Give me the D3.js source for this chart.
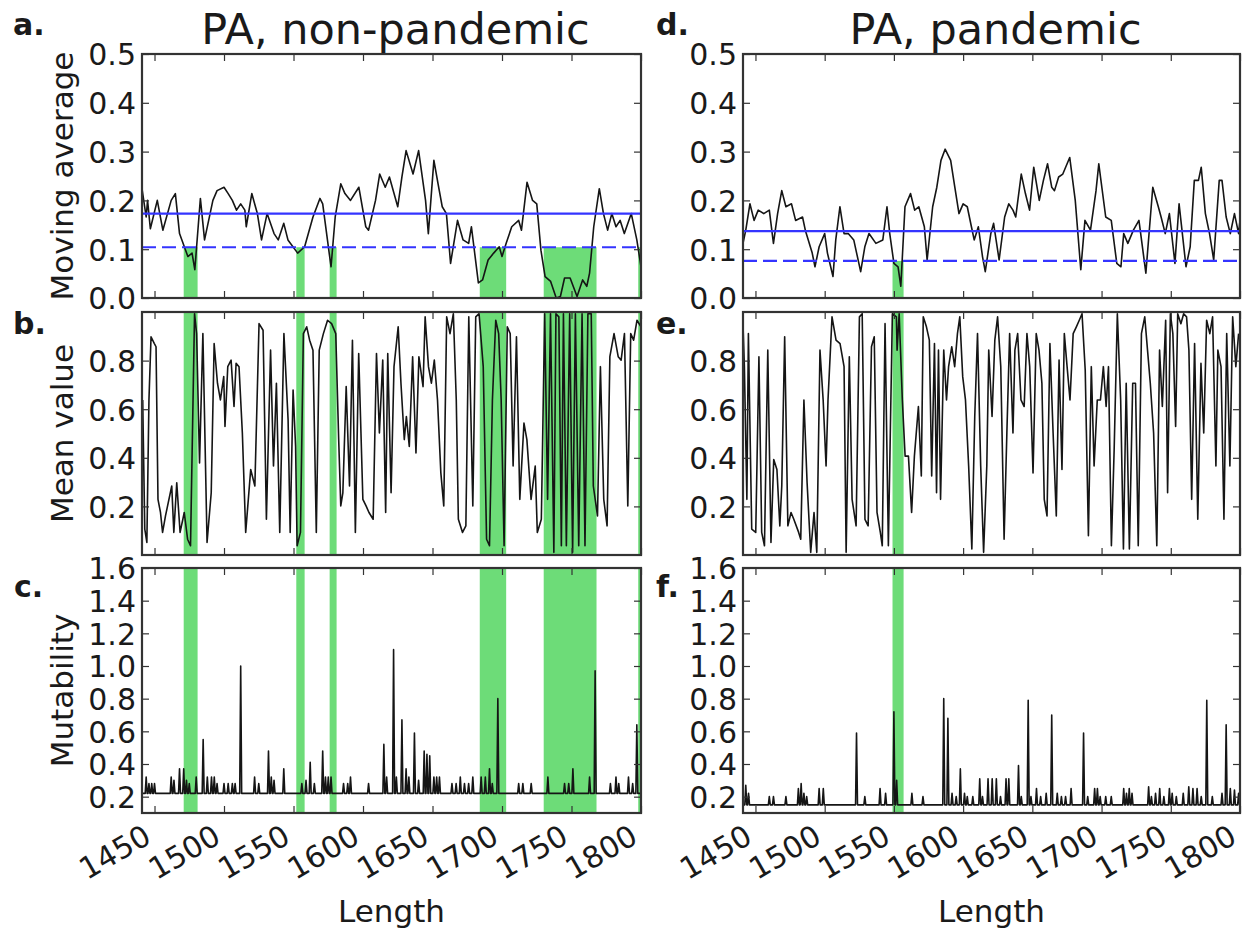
<!DOCTYPE html>
<html lang="en">
<head>
<meta charset="utf-8">
<title>PA: moving average, mean value, mutability</title>
<script src="https://d3js.org/d3.v7.min.js"></script>
<style>
  body { margin: 0; background: #fff; }
  text { font-family: "DejaVu Sans", sans-serif; fill: #1a1a1a; }
  .tick text { font-size: 30px; }
  .tick line { stroke: #333; stroke-width: 1.2; }
  path.domain { display: none; }
  .frame { fill: none; stroke: #333; stroke-width: 2.2; }
  .letter { font-weight: bold; font-size: 30px; }
  .title { font-size: 43px; }
  .ylabel, .xlabel { font-size: 31px; }
</style>
</head>
<body>
<svg id="chart" width="1251" height="938"></svg>
<script>
// ---- data ----
const xTicks = [1450, 1500, 1550, 1600, 1650, 1700, 1750, 1800];
const maTicks = [0, 0.1, 0.2, 0.3, 0.4, 0.5];
const meanTicks = [0.2, 0.4, 0.6, 0.8];
const mutTicks = [0.2, 0.4, 0.6, 0.8, 1.0, 1.2, 1.4, 1.6];

const titles = ["PA, non-pandemic", "PA, pandemic"];
const letters = [["a.", "b.", "c."], ["d.", "e.", "f."]];
const yLabels = ["Moving average", "Mean value", "Mutability"];

// thresholds (solid = mean, dashed = cut-off)
const thrNon = { solid: 0.173, dashed: 0.104 };
const thrPan = { solid: 0.137, dashed: 0.076 };

// highlighted (green) regions
const bandsNon = [[1471, 1481], [1552, 1558], [1576, 1581], [1684, 1703], [1730, 1768], [1798, 1800]];
const bandsPan = [[1549, 1557]];

// moving average
const maNon = [[1441,0.224],[1444,0.166],[1445,0.200],[1447,0.142],[1452,0.200],[1456,0.139],[1462,0.200],[1465,0.214],[1468,0.132],[1474,0.085],[1477,0.092],[1479,0.058],[1483,0.204],[1486,0.119],[1492,0.200],[1495,0.220],[1500,0.227],[1503,0.214],[1506,0.200],[1509,0.180],[1512,0.193],[1515,0.180],[1516,0.146],[1520,0.214],[1524,0.173],[1527,0.119],[1531,0.173],[1536,0.132],[1539,0.119],[1543,0.153],[1546,0.119],[1553,0.092],[1558,0.105],[1564,0.166],[1569,0.204],[1571,0.193],[1576,0.085],[1577,0.064],[1580,0.166],[1584,0.234],[1587,0.214],[1591,0.200],[1597,0.227],[1602,0.146],[1604,0.139],[1609,0.200],[1612,0.254],[1616,0.227],[1619,0.248],[1625,0.187],[1628,0.248],[1631,0.302],[1636,0.254],[1640,0.302],[1645,0.200],[1647,0.132],[1651,0.282],[1654,0.234],[1657,0.187],[1660,0.173],[1663,0.071],[1668,0.159],[1672,0.119],[1676,0.112],[1678,0.146],[1683,0.031],[1686,0.037],[1690,0.078],[1694,0.092],[1698,0.105],[1700,0.085],[1703,0.112],[1707,0.146],[1712,0.159],[1714,0.139],[1718,0.237],[1722,0.200],[1725,0.193],[1728,0.098],[1731,0.044],[1735,0.034],[1739,0.000],[1742,0.003],[1745,0.041],[1749,0.041],[1754,0.003],[1758,0.037],[1761,0.024],[1763,0.051],[1766,0.146],[1770,0.224],[1773,0.173],[1776,0.139],[1779,0.173],[1782,0.146],[1785,0.159],[1788,0.132],[1793,0.173],[1797,0.119],[1800,0.064]];
const maPan = [[1441,0.112],[1443,0.139],[1446,0.193],[1449,0.159],[1452,0.180],[1456,0.173],[1460,0.180],[1463,0.112],[1466,0.173],[1469,0.220],[1472,0.187],[1476,0.193],[1479,0.159],[1484,0.166],[1486,0.139],[1491,0.092],[1493,0.064],[1496,0.105],[1500,0.132],[1502,0.092],[1506,0.044],[1508,0.119],[1511,0.187],[1514,0.132],[1517,0.132],[1521,0.119],[1526,0.054],[1529,0.105],[1532,0.132],[1537,0.112],[1542,0.119],[1545,0.187],[1547,0.132],[1550,0.071],[1553,0.064],[1555,0.024],[1558,0.187],[1562,0.214],[1565,0.180],[1568,0.187],[1572,0.146],[1574,0.078],[1578,0.187],[1581,0.227],[1584,0.282],[1587,0.305],[1591,0.282],[1594,0.227],[1597,0.173],[1600,0.193],[1603,0.187],[1606,0.146],[1608,0.119],[1611,0.146],[1614,0.085],[1616,0.054],[1620,0.132],[1622,0.153],[1626,0.078],[1630,0.166],[1633,0.193],[1636,0.180],[1638,0.166],[1642,0.254],[1645,0.214],[1648,0.180],[1651,0.268],[1655,0.200],[1658,0.241],[1661,0.275],[1664,0.227],[1666,0.220],[1669,0.248],[1672,0.254],[1677,0.288],[1681,0.200],[1685,0.058],[1688,0.159],[1692,0.139],[1696,0.220],[1698,0.275],[1703,0.166],[1707,0.159],[1711,0.071],[1714,0.064],[1716,0.132],[1719,0.112],[1723,0.139],[1727,0.159],[1732,0.051],[1737,0.227],[1741,0.187],[1743,0.166],[1746,0.132],[1749,0.173],[1753,0.071],[1756,0.193],[1761,0.064],[1764,0.105],[1767,0.241],[1770,0.241],[1772,0.268],[1775,0.173],[1778,0.132],[1781,0.078],[1785,0.241],[1787,0.241],[1790,0.166],[1793,0.132],[1796,0.173],[1799,0.132],[1800,0.159]];

// mean value
const meanNon = [[1441.5,0.638],[1443,0.106],[1444.5,0.052],[1446,0.638],[1447.5,0.898],[1449.9,0.870],[1451.1,0.857],[1452.5,0.229],[1454.3,0.175],[1455.8,0.093],[1457.9,0.161],[1459.4,0.202],[1462.4,0.284],[1463.9,0.093],[1466,0.297],[1468.4,0.093],[1471.4,0.175],[1473.8,0.065],[1475.9,0.038],[1478.8,0.993],[1480.3,0.911],[1482.4,0.379],[1484.8,0.911],[1487.8,0.052],[1490.8,0.256],[1492.9,0.870],[1495.3,0.707],[1497.4,0.638],[1499.8,0.734],[1500.7,0.529],[1502.7,0.775],[1505.1,0.802],[1507.2,0.611],[1508.7,0.789],[1510.8,0.775],[1513.2,0.502],[1515.6,0.093],[1519.2,0.352],[1522.2,0.284],[1525.2,0.952],[1528.1,0.925],[1530.5,0.147],[1533.5,0.843],[1535.6,0.366],[1537.7,0.707],[1540.1,0.093],[1543.1,0.911],[1546.1,0.557],[1547.6,0.093],[1549.7,0.679],[1551.5,0.447],[1552.6,0.038],[1555,0.093],[1557.1,0.911],[1559.5,0.939],[1561.6,0.884],[1564,0.843],[1566.4,0.093],[1568.5,0.843],[1571.5,0.911],[1574.5,0.966],[1577.4,0.952],[1580.4,0.911],[1582.5,0.475],[1584,0.202],[1585.5,0.256],[1587.9,0.693],[1590.3,0.284],[1592.4,0.884],[1594.5,0.093],[1596.9,0.829],[1599.9,0.229],[1602.2,0.202],[1604.3,0.175],[1607.3,0.147],[1609.7,0.829],[1611.8,0.502],[1614.2,0.802],[1616.3,0.175],[1617.8,0.829],[1620.2,0.256],[1622.3,0.775],[1625.3,0.939],[1627.3,0.707],[1629.7,0.475],[1631.2,0.570],[1633.3,0.447],[1635.7,0.816],[1638.1,0.420],[1640.2,0.816],[1643.2,0.693],[1644.7,0.980],[1647.1,0.775],[1649.2,0.707],[1651.3,0.802],[1653.6,0.638],[1656,0.338],[1658.1,0.202],[1660.2,0.980],[1662.6,0.911],[1665,0.993],[1667.1,0.638],[1668.6,0.147],[1671.6,0.093],[1674,0.120],[1676.1,0.980],[1679,0.202],[1681.1,0.980],[1683.5,0.993],[1686.5,0.775],[1688.9,0.065],[1691,0.038],[1693.1,0.638],[1695.5,0.966],[1697.6,0.911],[1699.4,0.638],[1701.5,0.038],[1703.8,0.939],[1705.9,0.911],[1708,0.366],[1710.4,0.898],[1712.8,0.229],[1715.8,0.543],[1717.9,0.475],[1720.9,0.229],[1723.9,0.366],[1725.4,0.093],[1728.3,0.147],[1730.7,0.993],[1732.8,0.229],[1734.9,0.993],[1737.3,0.011],[1738.8,0.993],[1740.9,0.980],[1742.7,0.038],[1744.2,0.993],[1746.3,0.038],[1748.7,0.993],[1750.8,0.011],[1752.8,0.993],[1755.2,0.038],[1757.6,0.993],[1759.7,0.038],[1761.8,0.993],[1764.2,0.993],[1765.7,0.284],[1768.7,0.161],[1770.8,0.775],[1773.2,0.229],[1775.6,0.120],[1777.6,0.816],[1780.6,0.911],[1783.6,0.816],[1785.7,0.802],[1788.1,0.911],[1790.5,0.202],[1792.6,0.911],[1794.7,0.884],[1797.1,0.966],[1800,0.939]];
const meanPan = [[1440.9,0.966],[1442,0.775],[1443.8,0.229],[1444.9,0.911],[1447.3,0.106],[1450.2,0.093],[1452.5,0.816],[1454.5,0.093],[1456.5,0.038],[1458.9,0.843],[1461.2,0.052],[1463.2,0.393],[1465.5,0.352],[1467.6,0.120],[1469,0.284],[1471.1,0.898],[1473.4,0.120],[1475.7,0.175],[1477.7,0.147],[1481.2,0.093],[1482.7,0.065],[1485,0.638],[1487.3,0.297],[1489.9,0.011],[1492.3,0.175],[1494.3,0.011],[1496.6,0.843],[1498.9,0.638],[1501,0.366],[1502.4,0.638],[1505.3,0.980],[1508.2,0.884],[1511.1,0.870],[1514,0.775],[1515.5,0.011],[1517.8,0.816],[1519.8,0.229],[1522.7,0.120],[1525.1,0.980],[1527.1,0.993],[1529.1,0.147],[1531.4,0.120],[1533.8,0.857],[1535.8,0.898],[1537.8,0.175],[1540.2,0.093],[1541.6,0.038],[1543.6,0.952],[1546,0.038],[1548.9,0.993],[1551.8,0.980],[1552.3,0.843],[1553.8,0.993],[1556.1,0.638],[1558.1,0.407],[1560.5,0.407],[1562.8,0.175],[1564.8,0.407],[1567.7,0.611],[1569.8,0.325],[1571.2,0.980],[1573.5,0.939],[1575.6,0.884],[1577.3,0.325],[1579.3,0.870],[1580.8,0.256],[1582.2,0.843],[1583.7,0.229],[1586,0.843],[1588,0.638],[1589.5,0.775],[1591.8,0.857],[1593.9,0.775],[1595.9,0.911],[1597.6,0.980],[1599.7,0.734],[1601.7,0.638],[1604,0.366],[1606.3,0.025],[1608.4,0.570],[1610.4,0.911],[1612.7,0.366],[1614.8,0.011],[1617.1,0.366],[1618.5,0.843],[1620.9,0.570],[1622.9,0.884],[1624.9,0.980],[1627.2,0.775],[1629.6,0.065],[1631.6,0.502],[1633.6,0.911],[1636,0.502],[1637.4,0.843],[1639.4,0.911],[1641.8,0.638],[1644.1,0.611],[1646.1,0.911],[1648.1,0.775],[1650.5,0.338],[1652.8,0.911],[1654.8,0.843],[1656.9,0.707],[1658.6,0.229],[1660.6,0.161],[1662.7,0.870],[1665,0.502],[1667.3,0.161],[1669.3,0.802],[1671.4,0.352],[1673.1,0.911],[1675.1,0.775],[1677.2,0.638],[1679.5,0.911],[1681.8,0.939],[1683.9,0.966],[1685.9,0.993],[1688.2,0.761],[1690.5,0.079],[1692.6,0.775],[1694.6,0.366],[1696.9,0.638],[1699.2,0.638],[1701.3,0.775],[1703.3,0.611],[1705,0.775],[1707.1,0.038],[1709.1,0.434],[1711.4,0.993],[1713.8,0.638],[1715.8,0.025],[1717.8,0.707],[1720.1,0.025],[1722.5,0.707],[1724.5,0.707],[1726.5,0.038],[1728.8,0.911],[1731.2,0.980],[1733.2,0.843],[1735.2,0.707],[1737.6,0.502],[1739.9,0.038],[1741.9,0.843],[1743.9,0.611],[1746.3,0.966],[1747.7,0.256],[1749.7,0.993],[1751.5,0.911],[1753.5,0.529],[1755,0.993],[1757.3,0.952],[1759.3,0.993],[1761.4,0.980],[1763.1,0.843],[1765.1,0.229],[1767.2,0.870],[1769.5,0.147],[1771.8,0.789],[1773.8,0.502],[1775.9,0.966],[1778.2,0.911],[1780.2,0.980],[1782.6,0.366],[1784,0.843],[1786.3,0.775],[1788.4,0.147],[1790.4,0.911],[1792.7,0.366],[1794.7,0.980],[1797,0.775],[1799,0.911]];

// mutability: background level and spikes [position, value]
const mutBaseNon = 0.22;
const mutBasePan = 0.15;
const mutNon = [[1444,0.32],[1446,0.28],[1448,0.28],[1450,0.28],[1462,0.32],[1464,0.30],[1468,0.37],[1471,0.37],[1473,0.30],[1475,0.28],[1480,0.32],[1485,0.55],[1488,0.32],[1491,0.32],[1493,0.32],[1495,0.28],[1500,0.28],[1503,0.28],[1506,0.28],[1508,0.28],[1512,1.00],[1522,0.32],[1525,0.28],[1532,0.48],[1534,0.32],[1536,0.30],[1543,0.37],[1556,0.28],[1559,0.30],[1562,0.41],[1565,0.28],[1571,0.48],[1573,0.32],[1575,0.32],[1577,0.32],[1586,0.28],[1589,0.28],[1591,0.32],[1604,0.28],[1615,0.52],[1617,0.32],[1622,1.10],[1624,0.32],[1628,0.67],[1631,0.37],[1633,0.32],[1637,0.59],[1640,0.30],[1644,0.48],[1646,0.46],[1648,0.45],[1651,0.32],[1653,0.32],[1655,0.32],[1664,0.28],[1667,0.28],[1670,0.32],[1673,0.28],[1676,0.28],[1679,0.32],[1685,0.32],[1688,0.32],[1691,0.37],[1693,0.28],[1697,0.80],[1712,0.28],[1715,0.28],[1721,0.28],[1733,0.32],[1745,0.28],[1748,0.28],[1751,0.37],[1763,0.32],[1767,0.97],[1778,0.28],[1782,0.32],[1784,0.28],[1791,0.32],[1794,0.28],[1797,0.64]];
const mutPan = [[1443,0.27],[1445,0.22],[1460,0.20],[1463,0.20],[1472,0.20],[1481,0.25],[1483,0.28],[1485,0.22],[1487,0.20],[1496,0.25],[1499,0.25],[1523,0.59],[1529,0.20],[1540,0.25],[1544,0.22],[1550,0.72],[1552,0.30],[1563,0.22],[1571,0.20],[1586,0.80],[1589,0.68],[1592,0.22],[1595,0.20],[1598,0.37],[1601,0.22],[1603,0.20],[1607,0.20],[1612,0.31],[1614,0.20],[1618,0.31],[1621,0.31],[1624,0.31],[1627,0.20],[1631,0.31],[1633,0.31],[1640,0.39],[1642,0.20],[1647,0.79],[1649,0.20],[1653,0.25],[1656,0.20],[1660,0.22],[1664,0.70],[1668,0.22],[1671,0.20],[1674,0.20],[1678,0.25],[1687,0.59],[1690,0.20],[1695,0.25],[1697,0.25],[1699,0.20],[1703,0.20],[1707,0.20],[1716,0.25],[1718,0.22],[1720,0.25],[1722,0.22],[1734,0.26],[1736,0.20],[1739,0.22],[1742,0.25],[1745,0.20],[1749,0.25],[1751,0.22],[1754,0.20],[1759,0.22],[1763,0.26],[1766,0.25],[1769,0.25],[1772,0.20],[1776,0.79],[1780,0.20],[1787,0.22],[1790,0.64],[1793,0.25],[1796,0.24],[1799,0.22]];

// ---- layout ----
const cols = [[142, 641], [743, 1240]];
const rows = [[54, 298], [312, 555], [568, 813]];
const letterPos = [[13, 35], [13, 334], [14, 597]];
const letterX2 = 656;
const green = "#6ddc78";
const blue = "#3434ff";

const svg = d3.select("#chart");
const fmt = d3.format(".1f");

function spikeLine(spikes, base) {
  const pts = [[1441, base]];
  spikes.forEach(([p, v]) => pts.push([p - 0.7, base], [p, v], [p + 0.7, base]));
  pts.push([1800, base]);
  return pts.sort((a, b) => a[0] - b[0]);
}

const panels = [
  { c: 0, r: 0, dom: [0, 0.5], ticks: maTicks, pts: maNon, bands: bandsNon, thr: thrNon },
  { c: 0, r: 1, dom: [0, 1], ticks: meanTicks, pts: meanNon, bands: bandsNon },
  { c: 0, r: 2, dom: [0.1, 1.6], ticks: mutTicks, pts: spikeLine(mutNon, mutBaseNon), bands: bandsNon },
  { c: 1, r: 0, dom: [0, 0.5], ticks: maTicks, pts: maPan, bands: bandsPan, thr: thrPan },
  { c: 1, r: 1, dom: [0, 1], ticks: meanTicks, pts: meanPan, bands: bandsPan },
  { c: 1, r: 2, dom: [0.1, 1.6], ticks: mutTicks, pts: spikeLine(mutPan, mutBasePan), bands: bandsPan }
];

panels.forEach((p, i) => {
  const [x0, x1] = cols[p.c], [y0, y1] = rows[p.r];
  const x = d3.scaleLinear().domain([1441, 1800]).range([x0, x1]);
  const y = d3.scaleLinear().domain(p.dom).range([y1, y0]);
  const g = svg.append("g");

  g.append("clipPath").attr("id", "clip" + i)
    .append("rect").attr("x", x0).attr("y", y0).attr("width", x1 - x0).attr("height", y1 - y0);
  const plot = g.append("g").attr("clip-path", `url(#clip${i})`);

  // green regions: in the moving-average panels only up to the cut-off
  const bandTop = p.thr ? y(p.thr.dashed) : y0;
  plot.selectAll("rect.band").data(p.bands).enter().append("rect")
    .attr("class", "band")
    .attr("x", d => x(d[0]))
    .attr("width", d => x(d[1]) - x(d[0]))
    .attr("y", bandTop)
    .attr("height", y1 - bandTop)
    .attr("fill", green);

  plot.append("path").datum(p.pts)
    .attr("fill", "none").attr("stroke", "#151515").attr("stroke-width", 1.6)
    .attr("stroke-linejoin", "round")
    .attr("d", d3.line().x(d => x(d[0])).y(d => y(d[1])));

  if (p.thr) {
    plot.append("line").attr("x1", x0).attr("x2", x1)
      .attr("y1", y(p.thr.solid)).attr("y2", y(p.thr.solid))
      .attr("stroke", blue).attr("stroke-width", 2.2);
    plot.append("line").attr("x1", x0).attr("x2", x1)
      .attr("y1", y(p.thr.dashed)).attr("y2", y(p.thr.dashed))
      .attr("stroke", blue).attr("stroke-width", 2.2).attr("stroke-dasharray", "14,6");
  }

  // axes, ticks pointing inwards on all four sides
  g.append("g").attr("transform", `translate(${x0},0)`)
    .call(d3.axisLeft(y).tickValues(p.ticks).tickSize(-7).tickPadding(6).tickFormat(fmt))
    .selectAll("text").attr("dy", "0.36em");
  g.append("g").attr("transform", `translate(${x1},0)`)
    .call(d3.axisRight(y).tickValues(p.ticks).tickSize(-7).tickFormat(""));
  g.append("g").attr("transform", `translate(0,${y0})`)
    .call(d3.axisTop(x).tickValues(xTicks).tickSize(-7).tickFormat(""));
  const bottom = g.append("g").attr("transform", `translate(0,${y1})`)
    .call(d3.axisBottom(x).tickValues(xTicks).tickSize(-7).tickFormat(p.r === 2 ? d3.format("d") : ""));
  if (p.r === 2) {
    bottom.selectAll("text")
      .attr("x", null).attr("y", null).attr("dy", null)
      .attr("text-anchor", "end")
      .attr("transform", "translate(-2,29) rotate(-30)");
  }

  g.append("rect").attr("class", "frame")
    .attr("x", x0).attr("y", y0).attr("width", x1 - x0).attr("height", y1 - y0);

  // panel letter
  svg.append("text").attr("class", "letter")
    .attr("x", p.c === 0 ? letterPos[p.r][0] : letterX2)
    .attr("y", letterPos[p.r][1])
    .text(letters[p.c][p.r]);

  if (p.c === 0) {
    svg.append("text").attr("class", "ylabel")
      .attr("text-anchor", "middle")
      .attr("transform", `translate(73,${(y0 + y1) / 2}) rotate(-90)`)
      .text(yLabels[p.r]);
  }
  if (p.r === 0) {
    svg.append("text").attr("class", "title")
      .attr("x", (x0 + x1) / 2 + 4).attr("y", 44)
      .attr("text-anchor", "middle")
      .text(titles[p.c]);
  }
  if (p.r === 2) {
    svg.append("text").attr("class", "xlabel")
      .attr("x", (x0 + x1) / 2).attr("y", 922)
      .attr("text-anchor", "middle")
      .text("Length");
  }
});
</script>
</body>
</html>
